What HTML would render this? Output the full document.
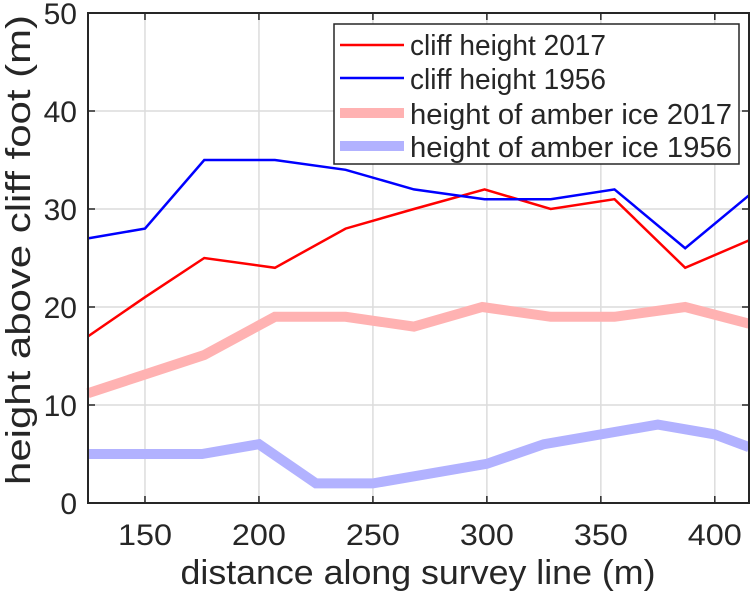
<!DOCTYPE html>
<html><head><meta charset="utf-8"><style>
body{margin:0;background:#fff;}
svg text{font-family:"Liberation Sans",Arial,sans-serif;fill:#262626;}
</style></head><body>
<svg id="chart" width="750" height="594" xmlns="http://www.w3.org/2000/svg">
<rect width="750" height="594" fill="#fff"/>
<g id="grid"></g>
<g id="series"></g>
<g id="axes"></g>
<text x="418" y="584" font-size="34" text-anchor="middle" textLength="475" lengthAdjust="spacingAndGlyphs">distance along survey line (m)</text>
<text transform="translate(30,250) rotate(-90)" font-size="34" text-anchor="middle" textLength="470" lengthAdjust="spacingAndGlyphs">height above cliff foot (m)</text>
<g>
<rect x="334" y="24" width="405" height="140" fill="#fff" stroke="#262626" stroke-width="1.5"/>
<g><line x1="340" y1="45" x2="404" y2="45" stroke="#ff0000" stroke-width="2.5"/><text x="410" y="55" font-size="29" textLength="196" lengthAdjust="spacingAndGlyphs">cliff height 2017</text></g>
<g><line x1="340" y1="78" x2="404" y2="78" stroke="#0000ff" stroke-width="2.5"/><text x="410" y="89" font-size="29" textLength="196" lengthAdjust="spacingAndGlyphs">cliff height 1956</text></g>
<g><line x1="340" y1="113" x2="404" y2="113" stroke="#ffb2b2" stroke-width="10"/><text x="410" y="124" font-size="29" textLength="322" lengthAdjust="spacingAndGlyphs">height of amber ice 2017</text></g>
<g><line x1="340" y1="146" x2="404" y2="146" stroke="#b2b2ff" stroke-width="10"/><text x="410" y="157" font-size="29" textLength="322" lengthAdjust="spacingAndGlyphs">height of amber ice 1956</text></g>
</g>
</svg>
<script>
const xTicks=[150,200,250,300,350,400];
const yTicks=[0,10,20,30,40,50];
const cliff2017X=[125,150,176,207,238,268,299,328,356,387,415];
const cliff2017Y=[17,21,25,24,28,30,32,30,31,24,26.8];
const cliff1956X=[125,150,176,207,238,268,299,328,356,387,415];
const cliff1956Y=[27,28,35,35,34,32,31,31,32,26,31.4];
const amber2017X=[125,176,207,238,268,298,328,356,387,415];
const amber2017Y=[11.2,15.1,19,19,18,20,19,19,20,18.3];
const amber1956X=[125,175,200,225,250,300,325,375,400,415];
const amber1956Y=[5,5,6,2,2,4,6,8,7,5.7];

const L=88,R=749,T=13,B=503,X0=125,X1=415,Y0=0,Y1=50;
const sx=v=>L+(v-X0)/(X1-X0)*(R-L);
const sy=v=>B-(v-Y0)/(Y1-Y0)*(B-T);
const NS='http://www.w3.org/2000/svg';
function mk(tag,attrs,parent){const e=document.createElementNS(NS,tag);for(const k in attrs)e.setAttribute(k,attrs[k]);parent.appendChild(e);return e;}
const grid=document.getElementById('grid'),axes=document.getElementById('axes'),series=document.getElementById('series');
xTicks.forEach(t=>{
 const g=mk('line',{x1:sx(t),x2:sx(t),y1:T,y2:B,stroke:'#dcdcdc','stroke-width':1.5},grid);
 
 
 mk('line',{x1:sx(t),x2:sx(t),y1:B,y2:B-7,stroke:'#262626','stroke-width':1.5},axes);
 mk('line',{x1:sx(t),x2:sx(t),y1:T,y2:T+7,stroke:'#262626','stroke-width':1.5},axes);
 const lb=mk('text',{x:sx(t),y:545,'font-size':30,'text-anchor':'middle',textLength:54,lengthAdjust:'spacingAndGlyphs'},axes);
 lb.textContent=t;
 
 
});
yTicks.forEach(t=>{
 const g=mk('line',{x1:L,x2:R,y1:sy(t),y2:sy(t),stroke:'#dcdcdc','stroke-width':1.5},grid);
 
 
 mk('line',{x1:L,x2:L+7,y1:sy(t),y2:sy(t),stroke:'#262626','stroke-width':1.5},axes);
 mk('line',{x1:R,x2:R-7,y1:sy(t),y2:sy(t),stroke:'#262626','stroke-width':1.5},axes);
 const lb=mk('text',{x:77,y:sy(t)+11,'font-size':30,'text-anchor':'end'},axes);
 lb.textContent=t;
 
 
});
const box=mk('rect',{x:L,y:T,width:R-L,height:B-T,fill:'none',stroke:'#262626','stroke-width':2},axes);


function line(xs,ys,color,w,name){
 const p=mk('polyline',{points:xs.map((x,i)=>sx(x)+','+sy(ys[i])).join(' '),fill:'none',stroke:color,'stroke-width':w,'stroke-linejoin':'miter'},series);
 
 
}
line(amber2017X,amber2017Y,'#ffb2b2',10,'amber-ice-2017-line');
line(amber1956X,amber1956Y,'#b2b2ff',10,'amber-ice-1956-line');
line(cliff2017X,cliff2017Y,'#ff0000',2.5,'cliff-height-2017-line');
line(cliff1956X,cliff1956Y,'#0000ff',2.5,'cliff-height-1956-line');
</script>
</body></html>
